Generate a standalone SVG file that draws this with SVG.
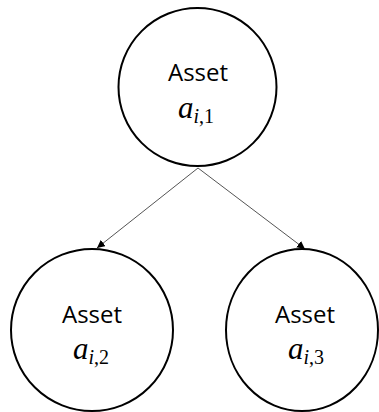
<svg xmlns="http://www.w3.org/2000/svg" width="379" height="412" viewBox="0 0 379 412">
  <defs>
    <marker id="arrow" viewBox="0 0 10 10" refX="10" refY="5" markerWidth="8" markerHeight="8" markerUnits="userSpaceOnUse" orient="auto">
      <path d="M0,0 L10,5 L0,10 z" fill="#000"/>
    </marker>
  </defs>
  <style>
    .node { fill: #fff; stroke: #000; stroke-width: 2; }
    .label { font-family: "Open Sans", "Noto Sans", sans-serif; font-size: 24px; fill: #000; text-anchor: middle; }
    .math { font-family: "Liberation Serif", serif; font-style: italic; font-size: 31px; fill: #000; text-anchor: middle; }
    .sub { font-size: 20px; }
    .up { font-style: normal; }
    .edge { stroke: #555; stroke-width: 1; fill: none; marker-end: url(#arrow); }
  </style>
  <rect width="379" height="412" fill="#fff"/>
  <g id="edges">
    <line class="edge" x1="198" y1="168" x2="97" y2="248"/>
    <line class="edge" x1="198" y1="168" x2="305" y2="249"/>
  </g>
  <g id="node-a1">
    <circle class="node" cx="197.5" cy="87" r="79"/>
    <text class="label" x="198" y="81">Asset</text>
    <text class="math" x="196" y="118">a<tspan class="sub" dy="5">i<tspan class="up">,1</tspan></tspan></text>
  </g>
  <g id="node-a2">
    <circle class="node" cx="92" cy="330" r="81"/>
    <text class="label" x="92" y="323">Asset</text>
    <text class="math" x="91" y="359">a<tspan class="sub" dy="5">i<tspan class="up">,2</tspan></tspan></text>
  </g>
  <g id="node-a3">
    <ellipse class="node" cx="302" cy="330" rx="76" ry="81"/>
    <text class="label" x="305" y="323">Asset</text>
    <text class="math" x="306" y="359">a<tspan class="sub" dy="5">i<tspan class="up">,3</tspan></tspan></text>
  </g>
</svg>
